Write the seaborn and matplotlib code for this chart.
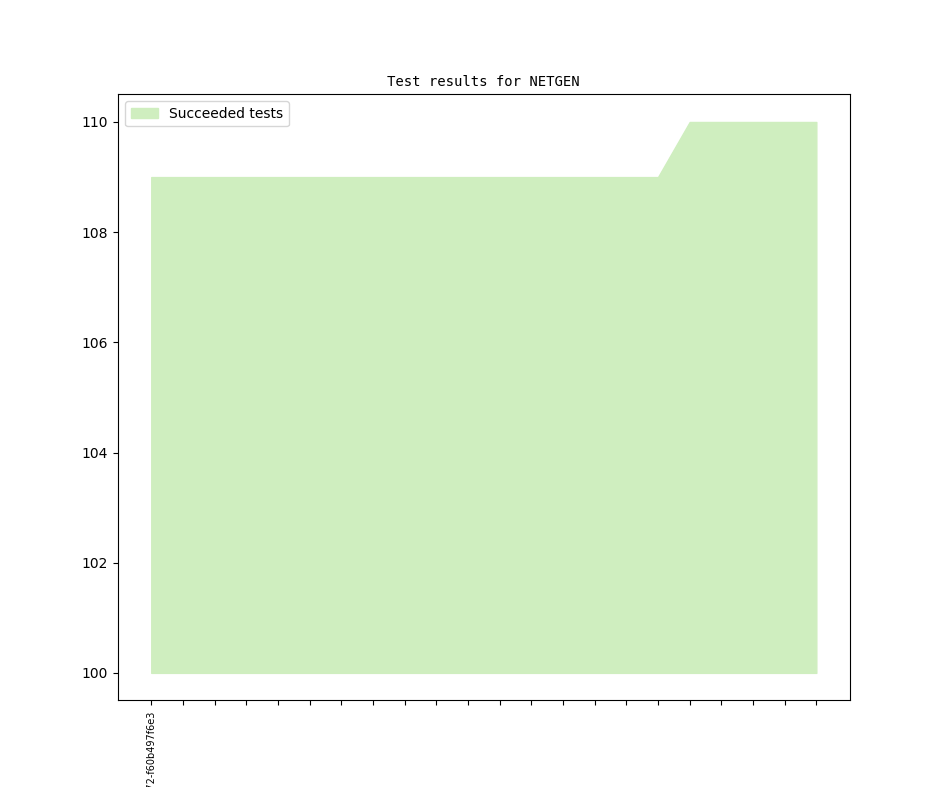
import numpy as np
import pandas as pd
import matplotlib
matplotlib.use('Agg')
import matplotlib.pyplot as plt
import seaborn as sns

commits = ['v6.2.2204-72-f60b497f6e3'] + [''] * 21
succeeded = [109] * 17 + [110] * 5
base = 100

df = pd.DataFrame({'commit': range(len(commits)), 'succeeded': succeeded})

fig, ax = plt.subplots(figsize=(9.44, 7.87), dpi=100)
fill_color = sns.desaturate('#cfeebf', 1.0)
ax.fill_between(df['commit'], base, df['succeeded'], color=fill_color,
                label='Succeeded tests')
ax.set_xticks(df['commit'])
ax.set_xticklabels(commits, rotation=90, fontsize=7)
ax.set_title('Test results for NETGEN', fontfamily='DejaVu Sans Mono', fontsize=10)
ax.legend(loc='upper left')
fig.savefig('out.png', dpi=100)
